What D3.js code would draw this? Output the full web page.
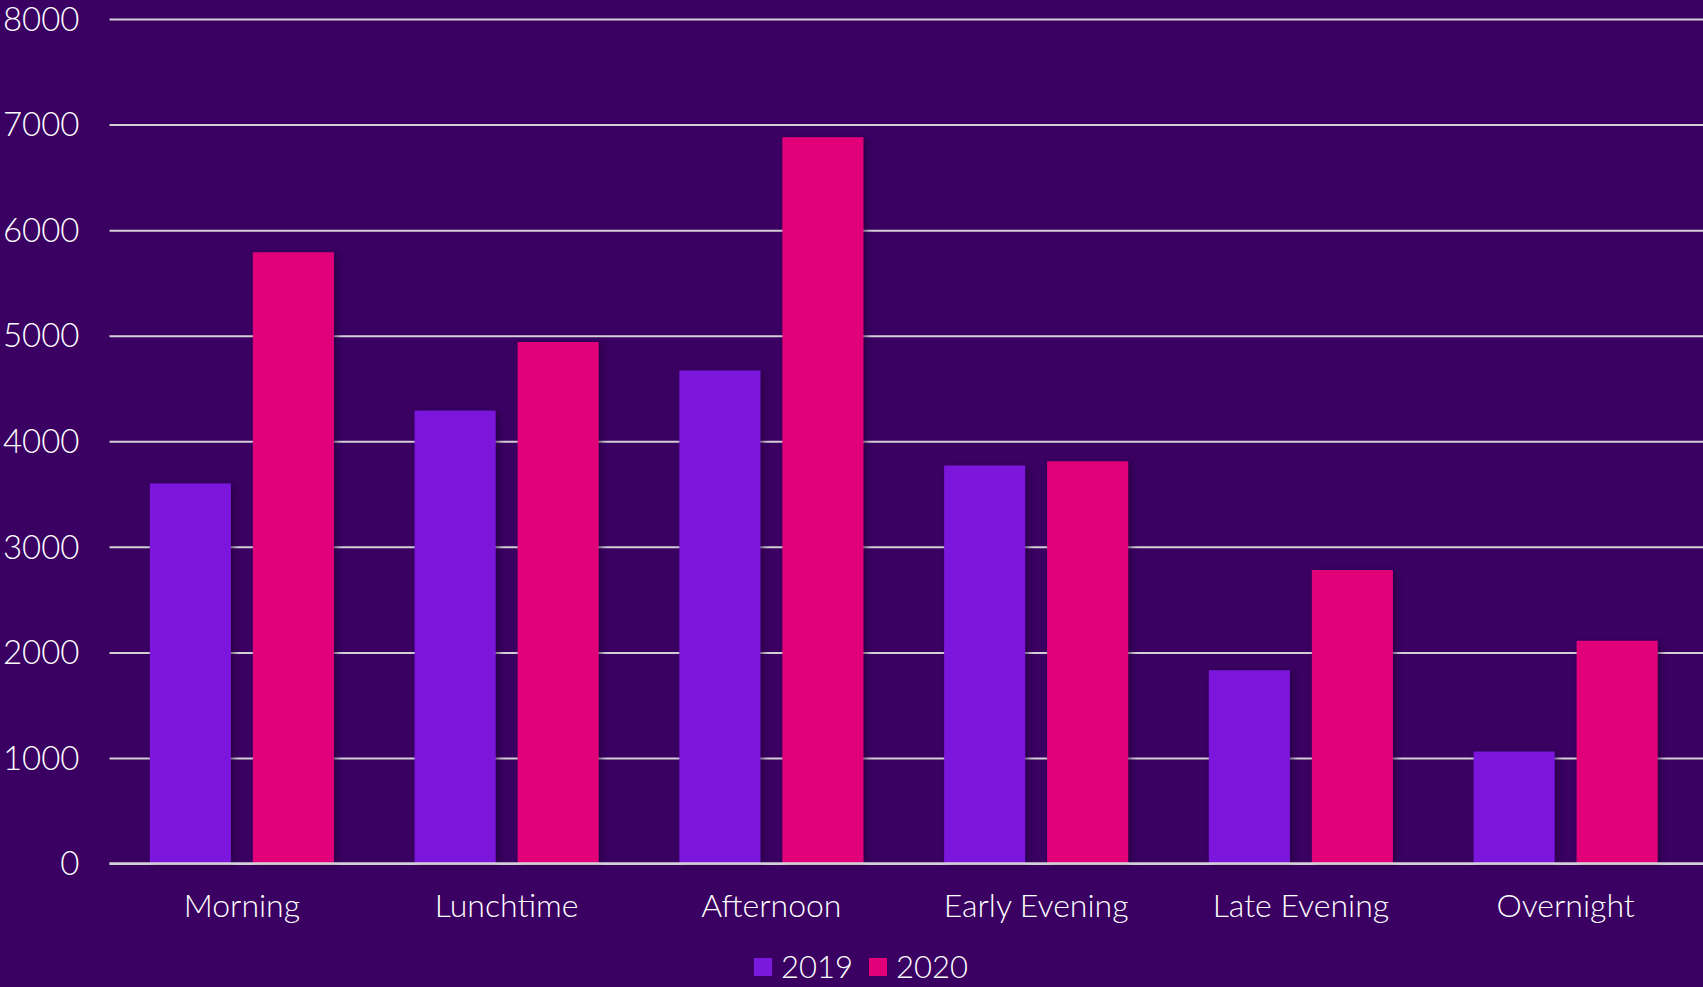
<!DOCTYPE html>
<html>
<head>
<meta charset="utf-8">
<script src="https://cdn.jsdelivr.net/npm/d3@7"></script>
<style>
  html, body { margin: 0; padding: 0; background: #3a0062; }
  svg { display: block; }
  text { font-family: Lato, "Open Sans", sans-serif; fill: #ffffff; font-weight: 300; }
</style>
</head>
<body>
<svg id="chart" width="1703" height="987"></svg>
<script>
const categories = ["Morning", "Lunchtime", "Afternoon", "Early Evening", "Late Evening", "Overnight"];
const seriesNames = ["2019", "2020"];
const values2019 = [3600, 4290, 4670, 3770, 1830, 1060];
const values2020 = [5790, 4940, 6880, 3810, 2780, 2110];
const yTicks = [0, 1000, 2000, 3000, 4000, 5000, 6000, 7000, 8000];
const seriesColors = ["#7b18dd", "#e2007a"];

const seriesValues = [values2019, values2020];
const rows = categories.map((c, i) => ({ category: c, values: seriesNames.map((s, j) => ({ series: s, value: seriesValues[j][i] })) }));

const W = 1703, H = 987;
const mLeft = 109.5, mRight = 1698, mTop = 19, mBottom = 863.5;

const svg = d3.select("#chart");
svg.append("rect").attr("width", W).attr("height", H).attr("fill", "#3a0062");

const defs = svg.append("defs");
const f = defs.append("filter").attr("id", "shadow").attr("x", "-10%").attr("y", "-10%").attr("width", "130%").attr("height", "130%");
f.append("feDropShadow").attr("dx", 3).attr("dy", 2).attr("stdDeviation", 3).attr("flood-color", "#1a0030").attr("flood-opacity", 0.6);

const x0 = d3.scaleBand().domain(categories).range([mLeft, mRight]).padding(0);
const x1 = d3.scaleBand().domain(seriesNames).range([0, x0.bandwidth()]).paddingInner(0.2136).paddingOuter(0.392);
const y = d3.scaleLinear().domain([0, 8000]).range([mBottom, mTop]);
const color = d3.scaleOrdinal().domain(seriesNames).range(seriesColors);

// gridlines + y labels
const yAxis = d3.axisLeft(y).tickValues(yTicks).tickSize(-(W - mLeft)).tickPadding(30).tickFormat(d3.format("d"));
const gy = svg.append("g").attr("transform", `translate(${mLeft},0)`).call(yAxis);
gy.select(".domain").remove();
gy.selectAll(".tick line").attr("stroke", "#d4d0d8").attr("stroke-width", 2);
gy.selectAll(".tick text").attr("font-size", 33).attr("font-family", "Lato, sans-serif").attr("font-weight", 300).attr("fill", "#ffffff").attr("dy", "0.34em");

// bars
const groups = svg.append("g").selectAll("g").data(rows).join("g")
  .attr("transform", d => `translate(${x0(d.category)},0)`);
groups.selectAll("rect").data(d => d.values).join("rect")
  .attr("x", d => x1(d.series))
  .attr("width", x1.bandwidth())
  .attr("y", d => y(d.value))
  .attr("height", d => y(0) - y(d.value))
  .attr("fill", d => color(d.series))
  .attr("filter", "url(#shadow)");

// redraw baseline on top
svg.append("line").attr("x1", mLeft).attr("x2", W).attr("y1", y(0)).attr("y2", y(0))
  .attr("stroke", "#d4d0d8").attr("stroke-width", 2.5);

// x axis labels
const xAxis = d3.axisBottom(x0).tickSize(0).tickPadding(31);
const gx = svg.append("g").attr("transform", `translate(0,${mBottom})`).call(xAxis);
gx.select(".domain").remove();
gx.selectAll(".tick text").attr("font-size", 32).attr("font-family", "Lato, sans-serif").attr("font-weight", 300).attr("fill", "#ffffff");

// legend
const legend = svg.append("g").attr("transform", "translate(754,958)");
const legendX = [0, 115];
seriesNames.forEach((s, i) => {
  const g = legend.append("g").attr("transform", `translate(${legendX[i]},0)`);
  g.append("rect").attr("width", 18).attr("height", 18).attr("fill", color(s));
  g.append("text").attr("x", 27).attr("y", 9).attr("dy", "0.35em").attr("font-size", 31).text(s);
});
</script>
</body>
</html>
